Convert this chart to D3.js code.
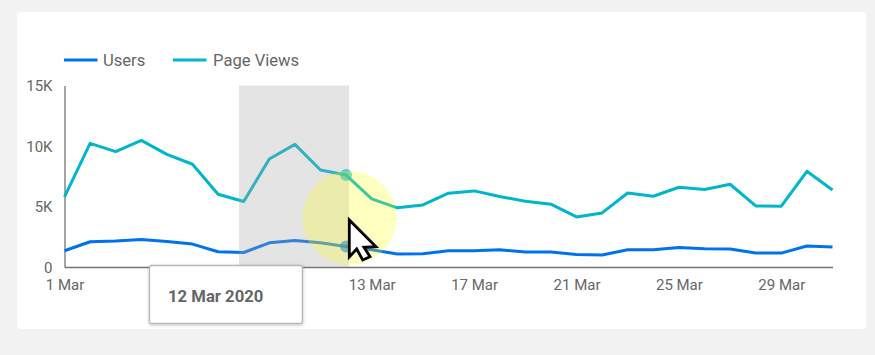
<!DOCTYPE html>
<html>
<head>
<meta charset="utf-8">
<script src="https://cdn.jsdelivr.net/npm/d3@7"></script>
<style>
    html, body { margin: 0; padding: 0; background: #f2f2f2; overflow: hidden; }
    svg { display: block; font-family: Roboto, sans-serif; }
</style>
</head>
<body>
<div id="chart"></div>
<script>
const days = d3.range(1, 32).map(d => `${d} Mar`);
const tickLabels = ["1 Mar", "13 Mar", "17 Mar", "21 Mar", "25 Mar", "29 Mar"];
const yTicks = [0, 5000, 10000, 15000];

const users = [1340, 2085, 2140, 2270, 2110, 1895, 1260, 1200, 2000, 2190, 2000, 1700, 1425, 1070, 1095, 1340,
    1340, 1425, 1235, 1235, 1040, 990, 1425, 1425, 1615, 1510, 1480, 1150, 1150, 1730, 1650];
const pageViews = [5790, 10220, 9530, 10460, 9310, 8490, 6010, 5410, 8920, 10130, 8020, 7600, 5630, 4890, 5130, 6100,
    6290, 5820, 5440, 5190, 4140, 4470, 6120, 5850, 6590, 6400, 6840, 5050, 5030, 7910, 6370];

const series = [
    { name: "Users", values: users, color: "#0072f0" },
    { name: "Page Views", values: pageViews, color: "#00b6cb" }
];
const hoverDay = "12 Mar";

const width = 875, height = 355;
const margin = { top: 85.5, right: 42.5, bottom: 88, left: 64.5 };
const innerWidth = width - margin.left - margin.right;
const innerHeight = height - margin.top - margin.bottom;

const svg = d3.select("#chart").append("svg")
    .attr("width", width)
    .attr("height", height);

const defs = svg.append("defs");
const shadow = defs.append("filter").attr("id", "tip-shadow")
    .attr("x", "-10%").attr("y", "-20%").attr("width", "120%").attr("height", "140%");
shadow.append("feDropShadow").attr("dx", 0).attr("dy", 1).attr("stdDeviation", 1.5)
    .attr("flood-color", "#000").attr("flood-opacity", 0.25);

const dotBlur = defs.append("filter").attr("id", "dot-blur")
    .attr("x", "-50%").attr("y", "-50%").attr("width", "200%").attr("height", "200%");
dotBlur.append("feGaussianBlur").attr("stdDeviation", 0.6);

// kartu putih
svg.append("rect")
    .attr("x", 17).attr("y", 12)
    .attr("width", 849).attr("height", 317)
    .attr("rx", 4)
    .attr("fill", "#ffffff");

const g = svg.append("g")
    .attr("transform", `translate(${margin.left},${margin.top})`);

const x = d3.scalePoint().domain(days).range([0, innerWidth]);
const y = d3.scaleLinear().domain([0, 15000]).range([innerHeight, 0]);

// Axis
const yAxis = d3.axisLeft(y).tickValues(yTicks)
    .tickSize(0).tickPadding(12)
    .tickFormat(d => d === 0 ? "0" : `${d / 1000}K`);
const xAxis = d3.axisBottom(x).tickValues(tickLabels)
    .tickSize(0).tickPadding(12);

const yG = g.append("g").call(yAxis);
const xG = g.append("g").attr("transform", `translate(0,${innerHeight})`).call(xAxis);

[yG, xG].forEach(a => {
    a.select(".domain").attr("stroke", "#757575").attr("stroke-width", 1.3);
    a.selectAll("text")
        .attr("fill", "#666666")
        .attr("font-family", "Roboto, sans-serif")
        .attr("font-size", "15px");
});
yG.selectAll("text").attr("dy", "0.36em");

// Line utama
const line = d3.line()
    .x((d, i) => x(days[i]))
    .y(d => y(d));

series.forEach(s => {
    g.append("path")
        .datum(s.values)
        .attr("fill", "none")
        .attr("stroke", s.color)
        .attr("stroke-width", 3)
        .attr("stroke-linejoin", "round")
        .attr("d", line);
});

// band abu-abu hover
const bandLeft = 239 - margin.left;
g.append("rect")
    .attr("x", bandLeft)
    .attr("y", 0)
    .attr("width", 110)
    .attr("height", innerHeight)
    .attr("fill", "rgba(165,165,165,0.3)");

// titik hover
const hoverIdx = days.indexOf(hoverDay);
series.forEach(s => {
    g.append("circle")
        .attr("cx", x(hoverDay))
        .attr("cy", y(s.values[hoverIdx]))
        .attr("r", 6)
        .attr("fill", s.color)
        .attr("fill-opacity", 0.62)
        .attr("filter", "url(#dot-blur)");
});

// lingkaran kuning kursor
svg.append("circle")
    .attr("cx", 349.5).attr("cy", 218).attr("r", 47)
    .attr("fill", "rgba(255,255,0,0.25)");

// Legend
const legendItems = [
    { lineX: 64, textX: 103 },
    { lineX: 173, textX: 213 }
];
const legend = svg.append("g").attr("transform", "translate(0,60)");
series.forEach((s, i) => {
    legend.append("line")
        .attr("x1", legendItems[i].lineX)
        .attr("x2", legendItems[i].lineX + 33.5)
        .attr("stroke", s.color)
        .attr("stroke-width", 3);
    legend.append("text")
        .attr("x", legendItems[i].textX)
        .attr("y", 5.5)
        .attr("fill", "#666666")
        .attr("font-size", "16.6px")
        .text(s.name);
});

// Tooltip
const tip = svg.append("g").attr("transform", "translate(149.5,265.5)");
tip.append("rect")
    .attr("width", 153)
    .attr("height", 58)
    .attr("rx", 2)
    .attr("fill", "#ffffff")
    .attr("stroke", "#b9b9b9")
    .attr("stroke-width", 1.4)
    .attr("filter", "url(#tip-shadow)");
tip.append("text")
    .attr("x", 18.5)
    .attr("y", 36)
    .attr("fill", "#666666")
    .attr("font-size", "16.7px")
    .attr("font-weight", 700)
    .text("12 Mar 2020");

// kursor
const cursorShape = d3.line()([
    [349.3, 220], [349.3, 257], [356.7, 249], [362.7, 260],
    [370, 256.7], [364, 247.3], [376, 246.7]
]) + "Z";
svg.append("path")
    .attr("d", cursorShape)
    .attr("fill", "#ffffff")
    .attr("stroke", "#000000")
    .attr("stroke-width", 2.8)
    .attr("stroke-linejoin", "miter");
</script>
</body>
</html>
